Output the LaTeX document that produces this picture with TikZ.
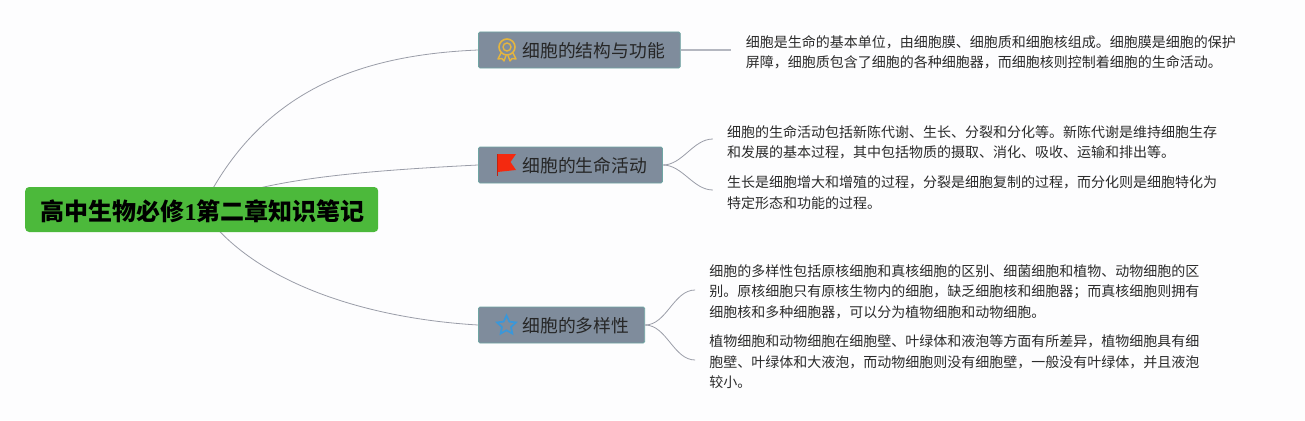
\documentclass[tikz,border=0pt]{standalone}
\usepackage{fontspec}
\setmainfont{Noto Sans CJK SC}
\newfontfamily\digitfont{Liberation Serif}
\usetikzlibrary{backgrounds,positioning,shapes.geometric}
\definecolor{Ink}{HTML}{2B2B2B}
\definecolor{Paper}{HTML}{FDFDFE}
\definecolor{Leaf}{HTML}{4CB93B}
\definecolor{Slate}{HTML}{7F8C9C}
\definecolor{SlateEdge}{HTML}{6FA5A3}
\definecolor{Wire}{HTML}{9A9DA8}
\definecolor{SoftWire}{HTML}{B4B7C0}
\definecolor{Gold}{HTML}{E5B53E}
\definecolor{FlagRed}{HTML}{F4290F}
\definecolor{StarBlue}{HTML}{3A97D9}
\tikzset{
  rootbox/.style={
    rounded corners=4pt, fill=Leaf, text=black, anchor=west,
    minimum width=353pt, minimum height=45pt, inner xsep=0pt, inner ysep=0pt,
    text height=26pt, text depth=4pt,
    font=\fontsize{24}{28}\selectfont\bfseries
  },
  topic/.style={
    rounded corners=1.5pt, draw=SlateEdge, thick, fill=Slate, text=black!85,
    anchor=west, minimum height=36pt, inner xsep=15.5pt, inner ysep=0pt,
    text height=20pt, text depth=4.4pt,
    font=\fontsize{17.8}{22}\selectfont
  },
  note/.style={
    text=Ink, align=left, inner xsep=14pt, inner ysep=0pt,
    font=\fontsize{14}{20.4}\selectfont
  },
  branch/.style={draw=Wire, line width=0.8pt},
  softbranch/.style={draw=SoftWire, line width=1.2pt}
}
\begin{document}
\begin{tikzpicture}[x=1pt,y=-1pt]
    \useasboundingbox (0,0) rectangle (1305,420);
    \node[rootbox] (root) at (25,209.5) {\hspace*{2pt}高中生物必修{\digitfont 1}第二章知识笔记};
    \node[topic] (structure) at (478,50) {\hspace*{28.5pt}细胞的结构与功能};
    \node[topic] (activity) at (478,165) {\hspace*{28.5pt}细胞的生命活动};
    \node[topic] (diversity) at (478,325) {\hspace*{28.5pt}细胞的多样性};
    \node[note,right=50pt of structure,yshift=-2.5pt,inner xsep=15pt] (n1) {细胞是生命的基本单位，由细胞膜、细胞质和细胞核组成。细胞膜是细胞的保护\\屏障，细胞质包含了细胞的各种细胞器，而细胞核则控制着细胞的生命活动。};
    \node[note,right=50pt of activity,yshift=23pt] (n2a) {细胞的生命活动包括新陈代谢、生长、分裂和分化等。新陈代谢是维持细胞生存\\和发展的基本过程，其中包括物质的摄取、消化、吸收、运输和排出等。};
    \node[note,right=50pt of activity,yshift=-27.5pt] (n2b) {生长是细胞增大和增殖的过程，分裂是细胞复制的过程，而分化则是细胞特化为\\特定形态和功能的过程。};
    \node[note,right=50pt of diversity,yshift=33.5pt] (n3a) {细胞的多样性包括原核细胞和真核细胞的区别、细菌细胞和植物、动物细胞的区\\别。原核细胞只有原核生物内的细胞，缺乏细胞核和细胞器；而真核细胞则拥有\\细胞核和多种细胞器，可以分为植物细胞和动物细胞。};
    \node[note,right=50pt of diversity,yshift=-37pt] (n3b) {植物细胞和动物细胞在细胞壁、叶绿体和液泡等方面有所差异，植物细胞具有细\\胞壁、叶绿体和大液泡，而动物细胞则没有细胞壁，一般没有叶绿体，并且液泡\\较小。};
    \begin{pgfonlayer}{background}
      \fill[Paper] (0,0) rectangle (1305,420);
      \draw[branch] (root.center) .. controls (260,90) and (360,55) .. (structure.west);
      \draw[branch] (root.center) .. controls (250,178) and (380,170) .. (activity.west);
      \draw[branch] (root.center) .. controls (250,280) and (360,318) .. (diversity.west);
    \end{pgfonlayer}
    \draw[softbranch] (structure.east)--(structure.east -| n1.west);
    \draw[branch] (activity.east) to[out=0,in=180,looseness=0.9] ([yshift=3pt]n2a.west);
    \draw[branch] (activity.east) to[out=0,in=180,looseness=0.9] ([yshift=2.5pt]n2b.west);
    \draw[branch] (diversity.east) to[out=0,in=180,looseness=0.9] ([yshift=1.5pt]n3a.west);
    \draw[branch] (diversity.east) to[out=0,in=180,looseness=0.9] ([yshift=2pt]n3b.west);
    \draw[Gold,line width=1.6pt] (507,47) circle (8);
    \draw[Gold,line width=1.4pt] (507,47) circle (4);
    \draw[Gold,line width=1.4pt,line join=round] (501,53)--(498,59)--(502,58.5)--(504,61)--(506,55.5);
    \draw[Gold,line width=1.4pt,line join=round] (513,53)--(516,59)--(512,58.5)--(510,61)--(508,55.5);
    \fill[FlagRed] (497.5,154)--(516,154)--(510.5,162)--(516,170)--(497.5,172)--cycle;
    \draw[FlagRed!80!black,line width=0.8pt] (497.5,154)--(497.5,176);
    \node[star,star points=5,star point ratio=2.1,draw=StarBlue,line width=1.7pt,minimum size=20pt,inner sep=0pt] (staricon) at (506.5,325.5) {};
  \end{tikzpicture}
\end{document}
